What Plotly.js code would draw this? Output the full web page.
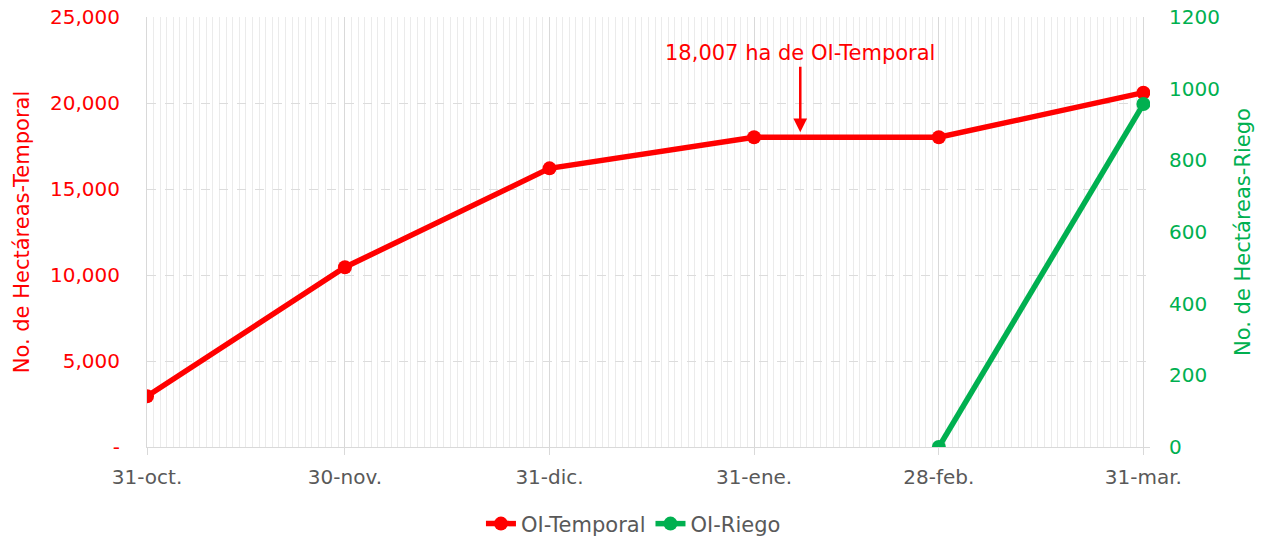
<!DOCTYPE html>
<html>
<head>
<meta charset="utf-8">
<script src="https://cdn.plot.ly/plotly-3.0.1.min.js"></script>
<style>html,body{margin:0;padding:0;background:#fff;}#chart{width:1265px;height:536px;}</style>
</head>
<body>
<div id="chart"></div>
<script>
const dates = ['2022-10-31','2022-11-30','2022-12-31','2023-01-31','2023-02-28','2023-03-31'];
const tickLabels = ['31-oct.','30-nov.','31-dic.','31-ene.','28-feb.','31-mar.'];
const temporal = [2950, 10450, 16200, 18007, 18007, 20600];
const riegoDates = ['2023-02-28','2023-03-31'];
const riego = [0, 957];
const leftTicks = [0, 5000, 10000, 15000, 20000, 25000];
const leftTickText = ['-', '5,000', '10,000', '15,000', '20,000', '25,000'];
const rightTicks = [0, 200, 400, 600, 800, 1000, 1200];
const annotationDate = '2023-02-07';
const annotationValue = 18007;
const annotationText = '18,007 ha de OI-Temporal';

const RED = '#ff0000', GREEN = '#00b050', GREY = '#595959';
const FONT = 'DejaVu Sans, sans-serif';

const traces = [
  {x: dates, y: temporal, type: 'scatter', mode: 'lines+markers', name: 'OI-Temporal',
   line: {color: RED, width: 5.5}, marker: {color: RED, size: 14}, yaxis: 'y'},
  {x: riegoDates, y: riego, type: 'scatter', mode: 'lines+markers', name: 'OI-Riego',
   line: {color: GREEN, width: 5.5}, marker: {color: GREEN, size: 14}, yaxis: 'y2'}
];

const layout = {
  width: 1265, height: 536,
  margin: {l: 147, r: 115, t: 17, b: 89, autoexpand: false},
  paper_bgcolor: '#fff', plot_bgcolor: '#fff',
  font: {family: FONT, size: 19, color: GREY},
  showlegend: true,
  legend: {orientation: 'h', x: 0.485, xanchor: 'center', y: -0.179, yanchor: 'middle',
           font: {family: FONT, size: 21, color: GREY}},
  xaxis: {
    type: 'date', range: ['2022-10-31', '2023-04-01'],
    tickmode: 'array', tickvals: dates, ticktext: tickLabels,
    showgrid: true, gridcolor: '#d9d9d9', gridwidth: 1,
    ticks: 'outside', ticklen: 7, tickcolor: '#d9d9d9',
    ticklabelstandoff: 5,
    showline: true, linecolor: '#d9d9d9', linewidth: 1,
    tickfont: {family: FONT, size: 20, color: GREY},
    minor: {tickmode: 'linear', tick0: '2022-10-31', dtick: 86400000, showgrid: true, gridcolor: '#ebebeb', gridwidth: 1},
    zeroline: false
  },
  yaxis: {
    range: [0, 25000], tickmode: 'array', tickvals: leftTicks, ticktext: leftTickText,
    showgrid: true, gridcolor: '#dcdcdc', griddash: 'dash', gridwidth: 1,
    showline: true, linecolor: '#d9d9d9', zeroline: false,
    tickfont: {family: FONT, size: 20, color: RED}, ticklen: 0, ticklabelstandoff: 22,
    title: {text: 'No. de Hectáreas-Temporal', font: {family: FONT, size: 21, color: RED}, standoff: 14}
  },
  yaxis2: {
    range: [0, 1200], tickmode: 'array', tickvals: rightTicks, overlaying: 'y', side: 'right',
    showgrid: false, zeroline: false, showline: false,
    tickfont: {family: FONT, size: 20, color: GREEN}, ticklabelstandoff: 18,
    title: {text: 'No. de Hectáreas-Riego', font: {family: FONT, size: 21, color: GREEN}, standoff: 16}
  },
  annotations: [{
    x: annotationDate, y: annotationValue, xref: 'x', yref: 'y',
    text: annotationText, showarrow: true, arrowhead: 2, arrowsize: 1.1, arrowwidth: 2.5,
    arrowcolor: RED, ax: 0, ay: -84, standoff: 5,
    font: {family: FONT, size: 21, color: RED}
  }]
};

Plotly.newPlot('chart', traces, layout, {displayModeBar: false, staticPlot: true});
</script>
</body>
</html>
